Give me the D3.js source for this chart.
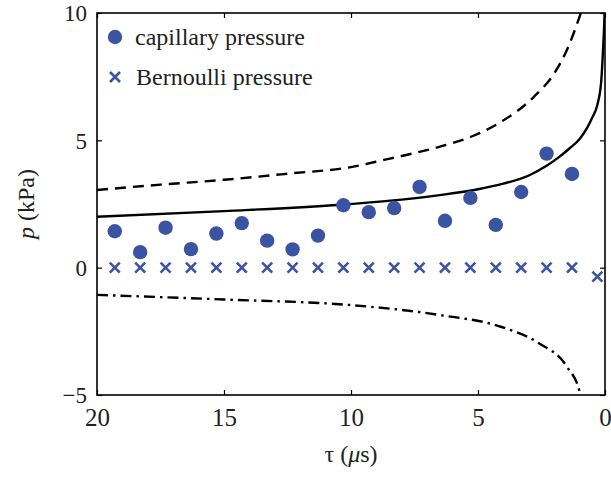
<!DOCTYPE html>
<html>
<head>
<meta charset="utf-8">
<script src="https://cdn.jsdelivr.net/npm/d3@7"></script>
<style>
  body { margin: 0; background: #fff; }
</style>
</head>
<body>
<div id="chart"></div>
<script>
// measured points (tau in microseconds, p in kPa)
const capTau = [19.3, 18.3, 17.3, 16.3, 15.3, 14.3, 13.3, 12.3, 11.3, 10.3, 9.3, 8.3, 7.3, 6.3, 5.3, 4.3, 3.3, 2.3, 1.3];
const capP = [1.43, 0.61, 1.57, 0.73, 1.34, 1.75, 1.06, 0.72, 1.26, 2.45, 2.18, 2.34, 3.17, 1.84, 2.74, 1.68, 2.97, 4.48, 3.68];
const berTau = [19.3, 18.3, 17.3, 16.3, 15.3, 14.3, 13.3, 12.3, 11.3, 10.3, 9.3, 8.3, 7.3, 6.3, 5.3, 4.3, 3.3, 2.3, 1.3, 0.3];
const berP = [0, 0, 0, 0, 0, 0, 0, 0, 0, 0, 0, 0, 0, 0, 0, 0, 0, 0, 0, -0.35];

// model curves
const solidTau = [20, 15, 10, 8, 6.5, 5, 4, 3, 2.3, 1.8, 1.4, 1.0, 0.7, 0.5, 0.3, 0.15, 0.08, 0.03, 0.0];
const solidP = [2.0, 2.22, 2.5, 2.67, 2.85, 3.08, 3.3, 3.62, 4.0, 4.35, 4.68, 5.05, 5.5, 5.9, 6.4, 7.3, 8.5, 9.6, 10.6];
const dashTau = [20, 17.5, 15, 12.5, 10, 8.7, 7.5, 6.4, 5.2, 4.1, 2.8, 2.0, 1.5, 1.0, 0.85];
const dashP = [3.05, 3.26, 3.45, 3.69, 3.95, 4.23, 4.5, 4.78, 5.17, 5.72, 6.71, 7.63, 8.55, 9.86, 10.3];
const ddTau = [20, 15, 10, 6.5, 4.1, 2.6, 1.5, 1.0, 0.9];
const ddP = [-1.07, -1.25, -1.47, -1.86, -2.32, -2.97, -3.89, -4.87, -5.3];

const xTicks = [20, 15, 10, 5, 0];
const yTicks = [-5, 0, 5, 10];
const legendLabels = ['capillary pressure', 'Bernoulli pressure'];

const width = 611, height = 477;
const margin = { top: 13, right: 6, bottom: 82, left: 97 };
const w = width - margin.left - margin.right;
const h = height - margin.top - margin.bottom;
const blue = '#3a53a3';
const serif = '"Liberation Serif", "Times New Roman", Times, serif';

const svg = d3.select('#chart').append('svg')
  .attr('width', width)
  .attr('height', height)
  .attr('font-family', serif);

const g = svg.append('g')
  .attr('transform', `translate(${margin.left},${margin.top})`);

const x = d3.scaleLinear().domain([20, 0]).range([0, w]);
const y = d3.scaleLinear().domain([-5, 10]).range([h, 0]);

svg.append('defs').append('clipPath').attr('id', 'plotclip')
  .append('rect').attr('width', w).attr('height', h);

// axes, ticks pointing inward
const tk = 5;
const xb = g.append('g').attr('transform', `translate(0,${h})`)
  .call(d3.axisBottom(x).tickValues(xTicks).tickSize(-tk).tickPadding(13).tickFormat(d3.format('d')));
const xt = g.append('g')
  .call(d3.axisTop(x).tickValues(xTicks).tickSize(-tk).tickFormat(''));
const yl = g.append('g')
  .call(d3.axisLeft(y).tickValues(yTicks).tickSize(-tk).tickPadding(10).tickFormat(d3.format('d')));
const yr = g.append('g').attr('transform', `translate(${w},0)`)
  .call(d3.axisRight(y).tickValues(yTicks).tickSize(-tk).tickFormat(''));

[xb, xt, yl, yr].forEach(a => {
  a.attr('font-family', serif);
  a.select('.domain').remove();
  a.selectAll('line').attr('stroke', '#000').attr('stroke-width', 1.2);
});
xb.selectAll('text').style('font-size', '25px').attr('fill', '#222');
yl.selectAll('text').style('font-size', '23px').attr('fill', '#222').attr('dy', '0.34em');

// frame
g.append('rect')
  .attr('width', w).attr('height', h)
  .attr('fill', 'none').attr('stroke', '#000').attr('stroke-width', 1.6);

const plot = g.append('g').attr('clip-path', 'url(#plotclip)');

const line = d3.line()
  .x(d => x(d[0]))
  .y(d => y(d[1]))
  .curve(d3.curveMonotoneX);

plot.append('path')
  .datum(d3.zip(solidTau, solidP))
  .attr('d', line)
  .attr('fill', 'none').attr('stroke', '#000').attr('stroke-width', 2.4);

plot.append('path')
  .datum(d3.zip(dashTau, dashP))
  .attr('d', line)
  .attr('fill', 'none').attr('stroke', '#000').attr('stroke-width', 2.4)
  .attr('stroke-dasharray', '11,7');

plot.append('path')
  .datum(d3.zip(ddTau, ddP))
  .attr('d', line)
  .attr('fill', 'none').attr('stroke', '#000').attr('stroke-width', 2.4)
  .attr('stroke-dasharray', '11,5,2.5,5');

// data markers
plot.selectAll('.cap')
  .data(d3.zip(capTau, capP))
  .enter().append('circle')
  .attr('class', 'cap')
  .attr('cx', d => x(d[0]))
  .attr('cy', d => y(d[1]))
  .attr('r', 7.2)
  .attr('fill', blue);

const cross = 5;
const crossPath = `M${-cross},${-cross}L${cross},${cross}M${-cross},${cross}L${cross},${-cross}`;
g.selectAll('.ber')
  .data(d3.zip(berTau, berP))
  .enter().append('path')
  .attr('class', 'ber')
  .attr('transform', d => `translate(${x(d[0])},${y(d[1])})`)
  .attr('d', crossPath)
  .attr('stroke', blue).attr('stroke-width', 2.6).attr('fill', 'none');

// legend
const lg = g.append('g');
lg.append('circle').attr('cx', 18).attr('cy', 24).attr('r', 7.2).attr('fill', blue);
lg.append('text').attr('x', 38).attr('y', 32).style('font-size', '24px').attr('fill', '#222').text(legendLabels[0]);
lg.append('path').attr('transform', 'translate(18,64)').attr('d', crossPath)
  .attr('stroke', blue).attr('stroke-width', 2.6).attr('fill', 'none');
lg.append('text').attr('x', 39).attr('y', 72).style('font-size', '24px').attr('fill', '#222').text(legendLabels[1]);

// axis titles
const xtitle = svg.append('text')
  .attr('x', margin.left + w / 2)
  .attr('y', 462)
  .attr('text-anchor', 'middle')
  .attr('fill', '#222')
  .style('font-size', '24px');
xtitle.append('tspan').text('τ (');
xtitle.append('tspan').style('font-style', 'italic').text('μ');
xtitle.append('tspan').text('s)');

const ytitle = svg.append('text')
  .attr('transform', `translate(34,${margin.top + h / 2}) rotate(-90)`)
  .attr('text-anchor', 'middle')
  .attr('fill', '#222')
  .style('font-size', '24px');
ytitle.append('tspan').style('font-style', 'italic').text('p');
ytitle.append('tspan').text(' (kPa)');
</script>
</body>
</html>
